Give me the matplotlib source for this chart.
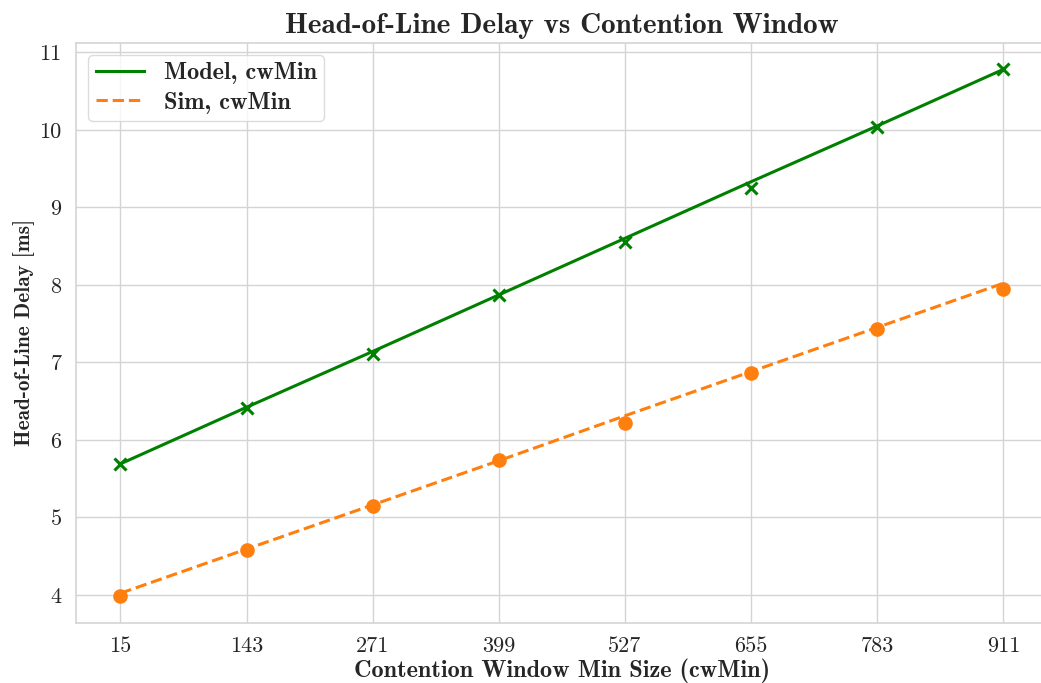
import numpy as np
import matplotlib
matplotlib.use("Agg")
import matplotlib.pyplot as plt

# ---- data ----
cw_min = [15, 143, 271, 399, 527, 655, 783, 911]
model_line = [5.69, 6.42, 7.14, 7.87, 8.60, 9.33, 10.05, 10.78]
model_pts = [5.69, 6.41, 7.11, 7.87, 8.55, 9.25, 10.04, 10.78]
sim_line = [4.02, 4.59, 5.16, 5.73, 6.31, 6.88, 7.45, 8.02]
sim_pts = [3.98, 4.58, 5.14, 5.74, 6.22, 6.86, 7.43, 7.95]
x_ticks = cw_min
y_ticks = [4, 5, 6, 7, 8, 9, 10, 11]

title = "Head-of-Line Delay vs Contention Window"
xlabel = "Contention Window Min Size (cwMin)"
ylabel = "Head-of-Line Delay [ms]"

# ---- style ----
TXT = "#262626"
GRID = "#d4d4d4"
REG = "cmr10"
BOLD = "cmb10"
plt.rcParams["axes.formatter.use_mathtext"] = True

fig = plt.figure(figsize=(10.41, 6.83), dpi=100)
ax = fig.add_axes([76.3 / 1041, 60.3 / 683, (1047.5 - 76.3) / 1041, (640 - 60.3) / 683])
ax.set_facecolor("white")
for s in ax.spines.values():
    s.set_color(GRID)
    s.set_linewidth(1.2)
ax.grid(True, color=GRID, linewidth=1.0)
ax.set_axisbelow(True)

ax.plot(cw_min, model_line, color="green", linewidth=2.2, label="Model, cwMin", zorder=3)
ax.plot(cw_min, model_pts, linestyle="none", marker="x", color="green",
        markersize=8.5, markeredgewidth=2.2, zorder=4)
ax.plot(cw_min, sim_line, color="#ff7f0e", linewidth=2.2, linestyle="--",
        label="Sim, cwMin", zorder=3)
ax.plot(cw_min, sim_pts, linestyle="none", marker="o", color="#ff7f0e",
        markersize=9.5, zorder=4)

ax.set_xticks(x_ticks)
ax.set_xticklabels([str(v) for v in x_ticks], fontfamily=REG, fontsize=16, color=TXT)
ax.set_yticks(y_ticks)
ax.set_yticklabels([str(v) for v in y_ticks], fontfamily=REG, fontsize=16, color=TXT)
ax.tick_params(axis="both", length=0)
ax.tick_params(axis="x", pad=10)
ax.tick_params(axis="y", pad=10.5)
ax.margins(x=0.05, y=0.05)

ax.set_title(title, fontfamily=BOLD, fontsize=21, color=TXT, pad=7.5)
ax.set_xlabel(xlabel, fontfamily=BOLD, fontsize=17.5, color=TXT, labelpad=2)
ax.set_ylabel(ylabel, fontfamily=BOLD, fontsize=15.3, color=TXT, labelpad=3)

leg = ax.legend(loc="upper left", prop={"family": BOLD, "size": 17.5},
                frameon=True, fancybox=True, framealpha=0.8, edgecolor=GRID,
                handlelength=2.0, borderaxespad=0.5, borderpad=0.3,
                labelspacing=0.3)
for t in leg.get_texts():
    t.set_color(TXT)

fig.savefig("out.png", dpi=100, facecolor="white")
